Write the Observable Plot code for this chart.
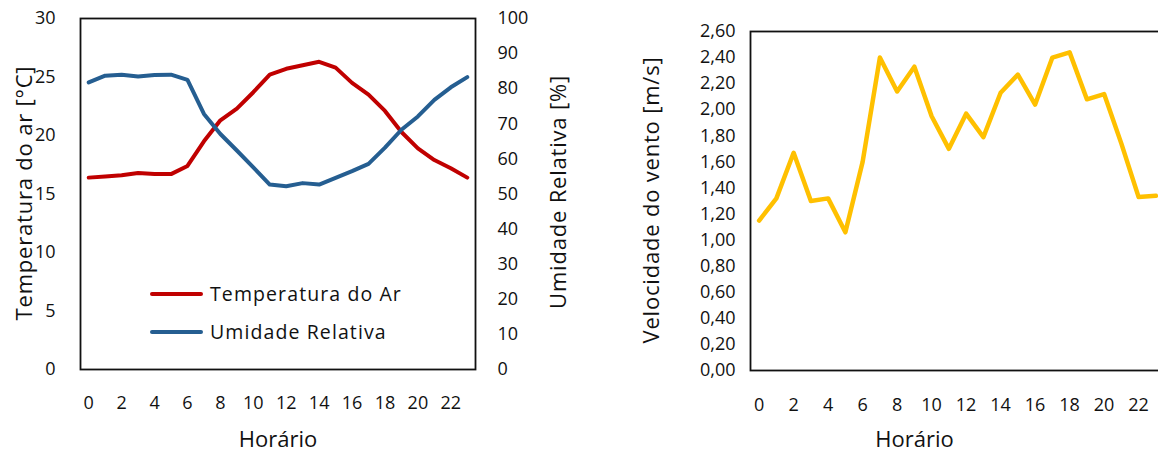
<!DOCTYPE html>
<html><head><meta charset="utf-8">
<script src="https://cdn.jsdelivr.net/npm/d3@7"></script>
<script src="https://cdn.jsdelivr.net/npm/@observablehq/plot@0.6"></script>
<style>
html,body{margin:0;padding:0;background:#fff;overflow:hidden}
#wrap{position:relative;width:1158px;height:453px;overflow:hidden;font-family:"Open Sans",sans-serif;background:#fff;color:#111}
#left{position:absolute;left:0;top:0;width:600px;height:453px}
#right{position:absolute;left:590px;top:0;width:580px;height:453px}
#left svg,#right svg{max-width:none}
.leg{position:absolute;left:150px;display:flex;align-items:center;font-size:19.5px;line-height:24px;letter-spacing:1.1px;color:#111;white-space:nowrap}
.leg .sw{display:inline-block;width:53px;height:4px;margin-right:7px;border-radius:2px}
.ytitle{position:absolute;font-size:22px;line-height:26px;white-space:nowrap;letter-spacing:0.8px;transform:translate(-50%,-50%) rotate(-90deg)}
</style></head><body>
<div id="wrap">
  <div id="left"></div>
  <div id="right"></div>
  <div class="leg" style="top:282px"><span class="sw" style="background:#C00000"></span>Temperatura do Ar</div>
  <div class="leg" style="top:320px"><span class="sw" style="background:#255E91"></span>Umidade Relativa</div>
  <div class="ytitle" style="left:23px;top:193px">Temperatura do ar [°C]</div>
  <div class="ytitle" style="left:557px;top:192px">Umidade Relativa [%]</div>
  <div class="ytitle" style="left:650px;top:200px">Velocidade do vento [m/s]</div>
</div>
<script>
const hours = [0,1,2,3,4,5,6,7,8,9,10,11,12,13,14,15,16,17,18,19,20,21,22,23];
const temperature = [16.4,16.5,16.6,16.8,16.7,16.7,17.4,19.5,21.3,22.3,23.7,25.2,25.7,26.0,26.3,25.8,24.5,23.5,22.1,20.3,18.9,17.9,17.2,16.4];
const humidity = [81.8,83.7,84.0,83.5,83.9,84.0,82.5,72.8,67.1,62.4,57.6,52.7,52.2,53.1,52.7,54.6,56.5,58.6,63.2,68.3,72.1,76.8,80.4,83.3];
const wind = [1.15,1.32,1.67,1.30,1.32,1.06,1.60,2.40,2.14,2.33,1.95,1.70,1.97,1.79,2.13,2.27,2.04,2.40,2.44,2.08,2.12,1.74,1.33,1.34];
const hourTicks = [0,2,4,6,8,10,12,14,16,18,20,22];
const tempTicks = [0,5,10,15,20,25,30];
const humTicks = [0,10,20,30,40,50,60,70,80,90,100];
const windTicks = [0,0.2,0.4,0.6,0.8,1.0,1.2,1.4,1.6,1.8,2.0,2.2,2.4,2.6];

const k = 30 / 100; // humidity -> temperature axis
const rows = hours.map((h, i) => ({hour: h, temp: temperature[i], hum: humidity[i], wind: wind[i]}));
const font = {fontFamily: "Open Sans, sans-serif", fontSize: "18px", color: "#111", background: "transparent", maxWidth: "none"};

const left = Plot.plot({
  width: 600, height: 453,
  marginLeft: 80, marginRight: 125, marginTop: 18, marginBottom: 84,
  x: {domain: [-0.5, 23.5]},
  y: {domain: [0, 30]},
  style: font,
  marks: [
    Plot.axisY({ticks: tempTicks, tickSize: 0, tickPadding: 25, label: null, fontSize: 18}),
    Plot.axisY({anchor: "right", ticks: humTicks.map(v => v * k), tickFormat: d => String(Math.round(d / k)), tickSize: 0, tickPadding: 22, label: null, fontSize: 18}),
    Plot.axisX({ticks: hourTicks, tickSize: 0, tickPadding: 27, label: null, fontSize: 18}),
    Plot.line(rows, {x: "hour", y: "temp", stroke: "#C00000", strokeWidth: 4, strokeLinejoin: "round", strokeLinecap: "round"}),
    Plot.line(rows, {x: "hour", y: d => d.hum * k, stroke: "#255E91", strokeWidth: 4, strokeLinejoin: "round", strokeLinecap: "round"}),
    Plot.frame({stroke: "#111", strokeWidth: 1.8}),
    Plot.text(["Horário"], {text: d => d, frameAnchor: "bottom", dy: 70, fontSize: 22, lineAnchor: "middle", fill: "#111"})
  ]
});
document.getElementById("left").append(left);

const right = Plot.plot({
  width: 580, height: 453,
  marginLeft: 160, marginRight: 6, marginTop: 31, marginBottom: 83,
  x: {domain: [-0.5, 23.5]},
  y: {domain: [0, 2.6]},
  style: font,
  marks: [
    Plot.axisY({ticks: windTicks, tickFormat: d => d.toFixed(2).replace(".", ","), tickSize: 0, tickPadding: 15, label: null, fontSize: 18}),
    Plot.axisX({ticks: hourTicks, tickSize: 0, tickPadding: 28, label: null, fontSize: 18}),
    Plot.line(rows, {x: "hour", y: "wind", stroke: "#FFC000", strokeWidth: 4.5, strokeLinejoin: "round", strokeLinecap: "round"}),
    Plot.frame({stroke: "#111", strokeWidth: 1.8}),
    Plot.text(["Horário"], {text: d => d, frameAnchor: "bottom", dx: -43, dy: 69, fontSize: 22, lineAnchor: "middle", fill: "#111"})
  ]
});
document.getElementById("right").append(right);
</script>
</body></html>
